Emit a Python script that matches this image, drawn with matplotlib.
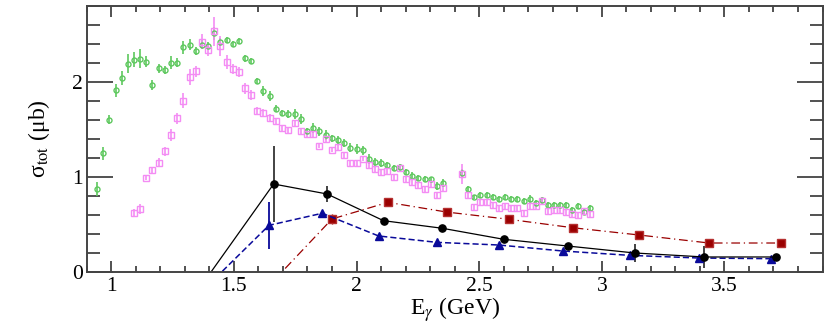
import numpy as np
import matplotlib.pyplot as plt
from matplotlib.ticker import MultipleLocator

plt.rcParams['font.family'] = ['Liberation Serif', 'DejaVu Serif']
plt.rcParams['mathtext.fontset'] = 'stix'

# --- data set 1 (green open circles) ---
green_x = [0.943, 0.967, 0.992, 1.019, 1.042, 1.068, 1.092, 1.118, 1.143, 1.168,
           1.193, 1.219, 1.243, 1.268, 1.294, 1.319, 1.344, 1.370, 1.394, 1.420,
           1.445, 1.470, 1.495, 1.520, 1.545, 1.569, 1.595, 1.620, 1.646, 1.671,
           1.696, 1.722, 1.748, 1.772, 1.798, 1.824, 1.848, 1.874, 1.898, 1.924,
           1.949, 1.975, 2.000, 2.025, 2.050, 2.075, 2.101, 2.126, 2.151, 2.176,
           2.201, 2.226, 2.252, 2.278, 2.302, 2.328, 2.352, 2.430, 2.454, 2.480,
           2.505, 2.530, 2.555, 2.580, 2.605, 2.631, 2.656, 2.681, 2.706, 2.730,
           2.756, 2.780, 2.807, 2.828, 2.853, 2.877, 2.902, 2.926, 2.950]
green_y = [0.87, 1.246, 1.60, 1.91, 2.04, 2.19, 2.23, 2.24, 2.21, 1.965,
           2.14, 2.12, 2.20, 2.20, 2.36, 2.39, 2.32, 2.39, 2.38, 2.51,
           2.415, 2.44, 2.40, 2.43, 2.245, 2.22, 2.01, 1.90, 1.85, 1.716,
           1.674, 1.657, 1.66, 1.607, 1.48, 1.51, 1.478, 1.44, 1.404, 1.386,
           1.355, 1.305, 1.29, 1.278, 1.186, 1.155, 1.147, 1.126, 1.088, 1.10,
           1.049, 1.007, 0.983, 0.979, 0.972, 0.905, 0.937, 1.036, 0.874, 0.786,
           0.81, 0.81, 0.783, 0.762, 0.783, 0.768, 0.765, 0.747, 0.765, 0.72,
           0.755, 0.705, 0.699, 0.699, 0.705, 0.653, 0.688, 0.628, 0.674]
green_err = [0.07, 0.07, 0.05, 0.07, 0.07, 0.10, 0.08, 0.10, 0.06, 0.05,
             0.05, 0.04, 0.07, 0.05, 0.07, 0.06, 0.04, 0.05, 0.04, 0.07,
             0.04, 0.03, 0.03, 0.03, 0.04, 0.03, 0.03, 0.05, 0.05, 0.04,
             0.03, 0.04, 0.05, 0.05, 0.03, 0.05, 0.05, 0.05, 0.04, 0.04,
             0.04, 0.05, 0.05, 0.05, 0.05, 0.04, 0.04, 0.03, 0.03, 0.03,
             0.03, 0.04, 0.03, 0.03, 0.03, 0.04, 0.04, 0.05, 0.03, 0.02,
             0.03, 0.03, 0.03, 0.03, 0.03, 0.03, 0.03, 0.03, 0.04, 0.03,
             0.03, 0.03, 0.03, 0.03, 0.03, 0.03, 0.03, 0.03, 0.03]

# --- data set 2 (pink open squares) ---
pink_x = [1.092, 1.117, 1.143, 1.168, 1.193, 1.219, 1.243, 1.268, 1.294, 1.319,
          1.344, 1.370, 1.394, 1.420, 1.445, 1.470, 1.495, 1.520, 1.545, 1.569,
          1.595, 1.620, 1.646, 1.671, 1.697, 1.722, 1.748, 1.772, 1.798, 1.824,
          1.848, 1.874, 1.900, 1.924, 1.949, 1.975, 2.000, 2.025, 2.050, 2.075,
          2.101, 2.126, 2.151, 2.176, 2.201, 2.226, 2.252, 2.278, 2.302, 2.328,
          2.352, 2.430, 2.454, 2.480, 2.505, 2.530, 2.555, 2.580, 2.605, 2.631,
          2.656, 2.681, 2.706, 2.730, 2.756, 2.780, 2.807, 2.828, 2.853, 2.877,
          2.902, 2.926, 2.950]
pink_y = [0.615, 0.66, 0.99, 1.067, 1.147, 1.267, 1.44, 1.615, 1.80, 2.05,
          2.11, 2.42, 2.33, 2.53, 2.376, 2.207, 2.134, 2.10, 1.93, 1.86,
          1.69, 1.67, 1.618, 1.583, 1.51, 1.49, 1.56, 1.484, 1.446, 1.446,
          1.327, 1.40, 1.285, 1.316, 1.228, 1.147, 1.141, 1.19, 1.123, 1.078,
          1.053, 1.063, 0.994, 1.088, 0.979, 0.944, 0.916, 0.867, 0.92, 0.81,
          0.878, 1.028, 0.81, 0.68, 0.737, 0.737, 0.702, 0.667, 0.695, 0.674,
          0.667, 0.618, 0.695, 0.695, 0.747, 0.636, 0.646, 0.649, 0.632, 0.611,
          0.60, 0.642, 0.604]
pink_err = [0.04, 0.05, 0.03, 0.04, 0.05, 0.05, 0.06, 0.06, 0.08, 0.08,
            0.06, 0.08, 0.06, 0.15, 0.11, 0.07, 0.05, 0.05, 0.06, 0.05,
            0.04, 0.04, 0.04, 0.04, 0.03, 0.03, 0.04, 0.03, 0.03, 0.03,
            0.03, 0.03, 0.03, 0.03, 0.03, 0.03, 0.03, 0.03, 0.03, 0.03,
            0.03, 0.03, 0.03, 0.03, 0.03, 0.03, 0.03, 0.03, 0.03, 0.03,
            0.03, 0.105, 0.03, 0.03, 0.03, 0.03, 0.03, 0.03, 0.03, 0.03,
            0.03, 0.03, 0.04, 0.03, 0.04, 0.03, 0.03, 0.03, 0.03, 0.03,
            0.03, 0.03, 0.03]

# --- model results ---
black_x = [1.38, 1.662, 1.880, 2.110, 2.350, 2.600, 2.862, 3.134, 3.417, 3.709]
black_y = [-0.10, 0.923, 0.818, 0.537, 0.457, 0.341, 0.270, 0.197, 0.155, 0.155]
black_err = [0.0, 0.40, 0.08, 0.02, 0.02, 0.02, 0.02, 0.09, 0.12, 0.02]

blue_x = [1.40, 1.643, 1.860, 2.090, 2.327, 2.580, 2.840, 3.114, 3.396, 3.690]
blue_y = [-0.13, 0.488, 0.615, 0.376, 0.309, 0.281, 0.218, 0.172, 0.144, 0.137]
blue_err = [0.0, 0.245, 0.02, 0.02, 0.02, 0.02, 0.02, 0.02, 0.02, 0.02]

red_x = [1.66, 1.900, 2.128, 2.367, 2.620, 2.881, 3.153, 3.437, 3.730]
red_y = [-0.10, 0.555, 0.730, 0.628, 0.552, 0.463, 0.386, 0.302, 0.302]
red_err = [0.0, 0.05, 0.02, 0.02, 0.02, 0.02, 0.02, 0.02, 0.02]

fig = plt.figure(figsize=(8.3, 3.25), dpi=100)
ax = fig.add_axes([0.1045, 0.164, 0.8865, 0.8185])

ax.errorbar(green_x, green_y, yerr=green_err, fmt='o', ms=3.6, mfc='none',
            mec='#5ec85e', mew=1.0, ecolor='#5ec85e', elinewidth=1.2, capsize=0)
ax.errorbar(pink_x, pink_y, yerr=pink_err, fmt='s', ms=3.8, mfc='none',
            mec='#f48cf4', mew=1.0, ecolor='#f48cf4', elinewidth=1.2, capsize=0)

ax.errorbar(red_x, red_y, yerr=red_err, fmt='s', ms=6, color='#9a0000',
            mec='#b53030', ls=(0, (7, 3, 1, 3)), lw=0.9, ecolor='#9a0000',
            elinewidth=1.0, capsize=0)
ax.errorbar(blue_x, blue_y, yerr=blue_err, fmt='^', ms=5.5, color='#0a0a9a',
            ls=(0, (4, 2)), lw=1.1, ecolor='#0a0a9a', elinewidth=1.3, capsize=0)
ax.errorbar(black_x, black_y, yerr=black_err, fmt='o', ms=5.2, color='black',
            ls='-', lw=0.9, ecolor='#222222', elinewidth=1.2, capsize=0)

ax.set_xlim(0.9, 3.9)
ax.set_ylim(0, 2.8)
ax.xaxis.set_major_locator(MultipleLocator(0.5))
ax.xaxis.set_minor_locator(MultipleLocator(0.1))
ax.yaxis.set_major_locator(MultipleLocator(1))
ax.yaxis.set_minor_locator(MultipleLocator(0.2))
ax.xaxis.set_major_formatter(plt.FuncFormatter(lambda v, p: f'{v:g}'))
ax.yaxis.set_major_formatter(plt.FuncFormatter(lambda v, p: f'{v:g}'))

ax.tick_params(axis='both', which='both', direction='in', top=True, right=True,
               labelsize=15.5, color='#333333', width=1.2)
ax.tick_params(axis='x', which='major', length=8, pad=4)
ax.tick_params(axis='x', which='minor', length=4)
ax.tick_params(axis='y', which='major', length=19, pad=3)
ax.tick_params(axis='y', which='minor', length=9.5)
for s in ax.spines.values():
    s.set_color('#444444')
    s.set_linewidth(1.4)

ax.set_xlabel(r'E$_\gamma$ (GeV)', fontsize=17, labelpad=-1)
ax.set_ylabel('σ$_{\\rm tot}$ (μb)', fontsize=17, labelpad=14)

fig.savefig('out.png', dpi=100)
